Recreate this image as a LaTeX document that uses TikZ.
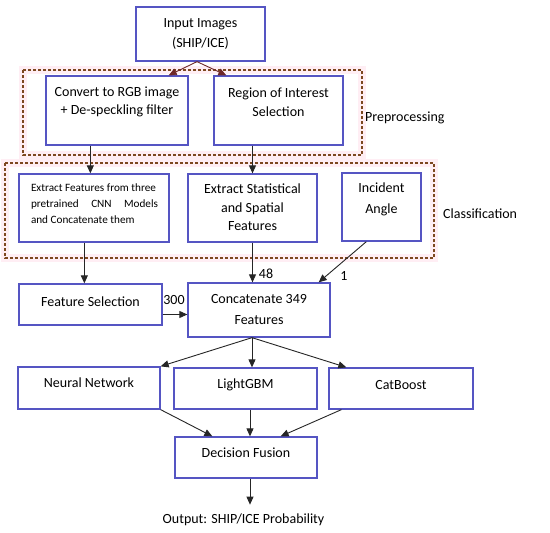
\documentclass[tikz,border=0pt]{standalone}
\usepackage{fontspec}
\setmainfont{Carlito}
\usetikzlibrary{arrows.meta,calc}
\definecolor{boxblue}{RGB}{85,85,195}
\definecolor{dashbrown}{RGB}{125,72,32}
\definecolor{halopink}{RGB}{255,238,244}
\definecolor{maroon}{RGB}{110,40,40}
\tikzset{
  box/.style={draw=boxblue,line width=1.3pt,fill=white,rectangle,inner sep=0pt},
  txt/.style={font=\fontsize{14}{20}\selectfont,align=center,inner sep=0pt},
  arr/.style={draw=black!85,line width=0.9pt,-{Triangle[length=8pt,width=7pt]}},
  marr/.style={draw=maroon,line width=0.9pt,-{Triangle[length=8pt,width=7pt]}},
  group/.style={draw=dashbrown,line width=1.3pt,dash pattern=on 3pt off 2pt},
  halo/.style={draw=halopink,line width=8pt}
}
\begin{document}
\begin{tikzpicture}[x=1pt,y=-1pt]
\useasboundingbox[fill=white] (0,0) rectangle (550,533);
% halos and group frames
\draw[halo] (23,70) rectangle (362,155);
\draw[halo] (5,163) rectangle (434,258);
\draw[group] (23,70) rectangle (362,155);
\draw[group] (5,163) rectangle (434,258);
\node[txt,anchor=west] (pre) at (365,118) {Preprocessing};
\node[txt,anchor=west] (cls) at (443,214) {Classification};
% boxes
\node[box,minimum width=129pt,minimum height=54pt] (inp) at (200.5,34) {};
\node[txt,font=\fontsize{14}{20}\selectfont] (inpt) at (200.5,34) {Input Images\\(SHIP/ICE)};
\node[box,minimum width=142pt,minimum height=69pt] (conv) at (117,110.5) {};
\node[txt,font=\fontsize{14}{18}\selectfont] (convt) at (117,101.5) {Convert to RGB image\\+ De-speckling filter};
\node[box,minimum width=129pt,minimum height=69pt] (roi) at (278.5,110.5) {};
\node[txt,font=\fontsize{14}{19}\selectfont] (roit) at (278.5,102.5) {Region of Interest\\Selection};
\node[box,minimum width=150pt,minimum height=68pt] (ef) at (94,208) {};
\node[txt,align=left,font=\fontsize{11.2}{16}\selectfont] (eft) at (94.5,204) {Extract Features from three\\\makebox[127pt][s]{pretrained CNN Models}\\and Concatenate them};
\node[box,minimum width=129pt,minimum height=68pt] (es) at (252.5,208) {};
\node[txt,font=\fontsize{14}{18.5}\selectfont] (est) at (252.5,207.5) {Extract Statistical\\and Spatial\\Features};
\node[box,minimum width=79pt,minimum height=68pt] (ia) at (381.5,207) {};
\node[txt,font=\fontsize{14}{21}\selectfont] (iat) at (381.5,199.5) {Incident\\Angle};
\node[box,minimum width=143pt,minimum height=41pt] (fs) at (90.5,304.5) {};
\node[txt] (fst) at (90.5,302) {Feature Selection};
\node[box,minimum width=142pt,minimum height=54pt] (cc) at (259,310) {};
\node[txt,font=\fontsize{14}{21}\selectfont] (cct) at (259,309.5) {Concatenate 349\\Features};
\node[box,minimum width=142pt,minimum height=42pt] (nn) at (89,388) {};
\node[txt] (nnt) at (89,383) {Neural Network};
\node[box,minimum width=143pt,minimum height=41pt] (lg) at (245.5,388.5) {};
\node[txt] (lgt) at (245.5,385) {LightGBM};
\node[box,minimum width=144pt,minimum height=41pt] (cb) at (401,388.5) {};
\node[txt] (cbt) at (401,385) {CatBoost};
\node[box,minimum width=142pt,minimum height=41pt] (df) at (246,457.5) {};
\node[txt] (dft) at (246,453) {Decision Fusion};
\node[txt] (out) at (243.5,520) {Output: SHIP/ICE Probability};
% connectors
\coordinate (i0) at ($(inp.south)+(-3.5,0)$);
\draw[marr] (i0) -- ($(conv.north east)+(-20,0)$);
\draw[marr] (i0) -- ($(roi.north west)+(13,0)$);
\coordinate (c0) at ($(conv.south west)+(45,0)$);
\draw[arr] (c0) -- (c0 |- ef.north);
\draw[arr] (es.north |- roi.south) -- (es.north);
\coordinate (e0) at ($(ef.south west)+(66,0)$);
\draw[arr] (e0) -- (e0 |- fs.north);
\draw[arr] (es.south) -- (es.south |- cc.north);
\node[txt] (n48) at (266,274) {48};
\draw[arr] ($(ia.south west)+(25,0)$) -- ($(cc.north east)+(-12,0)$);
\node[txt] (n1) at (344,276) {1};
\coordinate (f0) at ($(fs.east)+(0,10)$);
\draw[arr] (f0) -- (f0 -| cc.west);
\node[txt] (n300) at (174,300) {300};
\coordinate (k0) at ($(cc.south)+(-7,0)$);
\draw[arr] (k0) -- (nn.north east);
\draw[arr] (k0) -- (k0 |- lg.north);
\draw[arr] (k0) -- ($(cb.north west)+(18,0)$);
\draw[arr] (nn.south east) -- ($(df.north west)+(38,0)$);
\coordinate (l0) at ($(lg.south)+(4.5,0)$);
\draw[arr] (l0) -- (l0 |- df.north);
\draw[arr] ($(cb.south west)+(13,0)$) -- ($(df.north east)+(-37,0)$);
\coordinate (d0) at ($(df.south)+(4,0)$);
\coordinate (d1) at ($(d0)+(0,26)$);
\draw[arr] (d0) -- (d1);
\end{tikzpicture}
\end{document}
